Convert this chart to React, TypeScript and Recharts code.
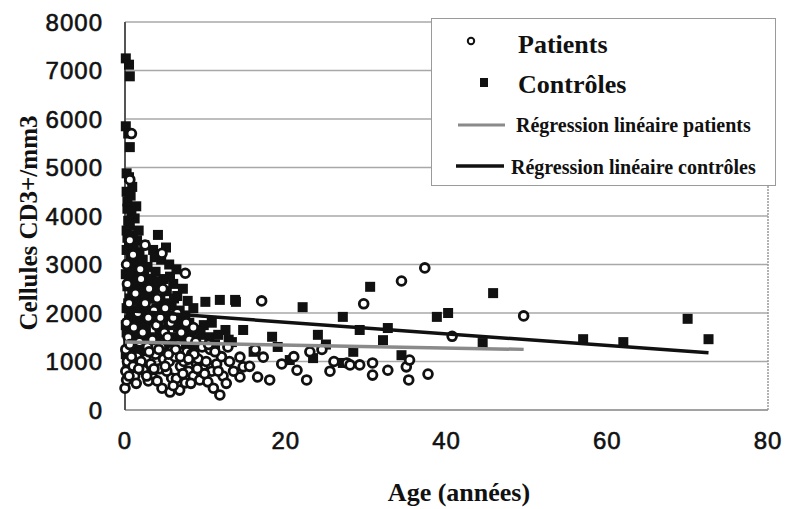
import React from 'react';
import {
  ComposedChart,
  Scatter,
  XAxis,
  YAxis,
  CartesianGrid,
  ReferenceLine,
  Label,
} from 'recharts';

// Contrôles (age in years, CD3+ cells/mm3)
const controlAges = [
  0.1, 0.5, 0.6, 0.1, 0.4, 0.6, 0.2, 0.5, 0.2, 0.7, 0.3, 0.8, 1.2, 0.2, 1.0, 0.5, 1.5, 0.2, 0.9, 1.8,
  0.4, 1.3, 2.2, 0.1, 0.8, 1.6, 2.5, 0.3, 1.1, 2.0, 2.9, 0.6, 1.4, 2.3, 3.2, 0.2, 1.0, 1.9, 2.7, 0.5,
  1.3, 2.1, 3.0, 0.2, 0.9, 1.7, 2.6, 0.4, 1.2, 2.0, 0.1, 0.8, 1.5,
  0.3, 0.9, 0.4, 1.4, 0.6, 1.1, 0.3, 1.7, 0.7, 2.4, 0.5, 1.5, 2.8, 0.9, 2.4, 1.8, 3.3, 0.4, 1.2, 2.6,
  0.7, 1.6, 2.4, 3.4, 0.1, 1.1, 1.9, 3.1, 0.6, 1.6, 2.3, 0.3, 1.0, 1.9, 2.8,
  4.1, 3.5, 4.5, 5.5, 3.8, 4.8, 6.0, 3.6, 4.4, 5.2, 6.5, 7.2, 3.9, 5.0, 5.8, 6.8, 7.5, 8.5, 4.2, 5.4,
  6.3, 7.0, 8.0, 9.0, 4.6, 5.8, 6.9, 7.8, 8.8, 9.8, 10.0, 11.8, 13.7, 10.5, 11.2, 12.5,
  3.7, 5.1, 4.0, 5.6, 6.4, 3.6, 4.9, 6.1, 7.8, 4.3, 5.6, 6.6, 7.4, 8.2, 3.9, 5.0, 6.2, 7.3, 8.4, 9.4,
  4.7, 6.0, 10.8, 11.6, 12.9,
  13.8, 22.1, 27.1, 14.7, 18.3, 13.3, 20.5, 23.4, 27.1, 30.5, 45.8, 70.0, 72.6, 57.0, 62.0, 38.8, 40.2,
  29.2, 32.7, 32.1, 44.5, 34.4, 28.4, 16.0, 19.0, 25.0, 24.0,
];
const controlValues = [
  7250, 7120, 6880, 5850, 5700, 5420, 4880, 4800, 4500, 4420, 4150, 4000, 3950, 3700, 3600, 3450, 3500, 3300, 3200, 3250,
  3000, 3050, 3100, 2800, 2750, 2850, 2700, 2550, 2500, 2550, 2600, 2300, 2350, 2250, 2400, 2100, 2050, 2150, 2050, 1850,
  1800, 1900, 1850, 1600, 1650, 1550, 1650, 1400, 1350, 1300, 1150, 1100, 1200,
  4300, 4600, 3900, 4200, 3800, 3400, 3550, 3700, 3150, 3400, 2900, 2650, 2950, 2450, 2800, 2400, 2700, 2200, 2250, 2350,
  1950, 2000, 1750, 2000, 1750, 1500, 1700, 1500, 1250, 1400, 1450, 950, 900, 1100, 1200,
  3610, 3300, 3100, 3000, 2850, 2700, 2600, 2500, 2300, 2450, 2350, 2500, 2100, 2000, 2150, 2050, 1950, 2100, 1800, 1750,
  1850, 1700, 1800, 1650, 1550, 1500, 1450, 1550, 1400, 1750, 2230, 2270, 2270, 1500, 1350, 1650,
  3150, 3350, 2650, 2750, 2900, 2300, 2200, 2300, 2250, 1650, 1950, 1700, 1850, 1600, 1450, 1350, 1300, 1350, 1250, 1550,
  1150, 1100, 1800, 1550, 1450,
  2230, 2120, 1920, 1650, 1510, 1400, 1030, 1070, 970, 2540, 2410, 1880, 1460, 1460, 1400, 1920, 2000,
  1650, 1690, 1440, 1380, 1130, 1200, 1200, 1300, 1350, 1550,
];

// Patients
const patientAges = [
  0.8, 0.6, 4.6, 7.5, 17.0, 37.3, 34.4, 29.7, 49.6, 40.7, 30.8, 30.8, 32.7, 35.3, 37.7, 35.0, 35.4, 29.2,
  27.6, 14.3, 16.5, 18.0, 22.6, 21.4, 14.7, 14.3, 17.2, 28.0, 26.0, 24.5,
  0.0, 0.2, 0.1, 0.3, 0.1, 0.4, 0.2, 0.5, 0.3, 0.2, 0.6, 1.0, 1.2, 1.5, 1.8, 1.1, 1.6, 1.3, 1.9, 2.3,
  2.6, 2.8, 2.2, 2.9, 2.5, 3.5, 3.2, 3.8, 3.4, 3.9, 3.6, 4.6, 4.3, 4.8, 4.5, 4.9, 4.4, 4.7, 5.6, 5.8,
  5.2, 5.5, 5.9, 5.3, 5.7, 6.8, 6.4, 6.9, 6.2, 6.6, 7.0, 6.5, 7.5, 7.9, 7.3, 7.7, 8.0, 7.6, 8.5, 8.9,
  8.3, 8.8, 9.3, 9.7, 9.1, 9.6, 10.3, 10.8, 10.1, 10.6, 11.0, 11.8, 11.4, 12.2, 12.0, 12.8, 13.5, 13.0,
  15.5, 16.2, 19.5, 21.0, 23.0, 25.5,
  0.5, 1.4, 2.0, 2.9, 3.0, 4.0, 5.0, 6.0, 6.3, 7.2, 8.2, 8.6, 9.9, 10.4, 11.6, 12.6, 2.7, 3.6, 4.2, 5.4,
  6.9, 7.9, 9.0, 11.2, 1.7, 0.8, 0.6,
  1.0, 2.0, 3.0, 4.0, 5.0, 6.0, 8.5, 2.5,
];
const patientValues = [
  5700, 4750, 3230, 2820, 2250, 2930, 2660, 2190, 1940, 1520, 970, 720, 820, 620, 740, 890, 1030, 930,
  970, 680, 680, 620, 620, 820, 890, 1090, 1090, 930, 1000, 1250,
  450, 620, 800, 1000, 1250, 1500, 1800, 2200, 2600, 3000, 3500, 900, 700, 1100, 1400, 1700, 2000, 2400, 2900, 820,
  1050, 1300, 1600, 1900, 2200, 660, 950, 1150, 1450, 1750, 2050, 450, 850, 1050, 1300, 1600, 1900, 2500, 370, 660,
  800, 1000, 1250, 1500, 1800, 410, 650, 900, 1100, 1350, 1600, 2000, 560, 800, 1000, 1200, 1450, 1800, 700, 950,
  1150, 1400, 620, 850, 1050, 1300, 580, 800, 1000, 1250, 450, 310, 950, 700, 1100, 1300, 800, 1000,
  900, 1250, 950, 1100, 1200, 800,
  700, 550, 1000, 600, 1200, 600, 900, 500, 1250, 750, 550, 1150, 750, 1350, 800, 550, 700, 850, 1250, 1150,
  1100, 1050, 850, 1200, 850, 1100, 1350,
  3200, 2700, 2500, 2300, 2100, 1900, 1700, 3400,
];

// Régression linéaire (end points of the fitted lines)
const patientFitAges = [0, 49.6];
const patientFitValues = [1400, 1250];
const controlFitAges = [0, 72.6];
const controlFitValues = [2050, 1180];

const yTicks = [0, 1000, 2000, 3000, 4000, 5000, 6000, 7000, 8000];
const xTicks = [0, 20, 40, 60, 80];

const toPoints = (xs: number[], ys: number[]) => xs.map((age, i) => ({ age, value: ys[i] }));

const controls = toPoints(controlAges, controlValues);
const patients = toPoints(patientAges, patientValues);
const patientFit = toPoints(patientFitAges, patientFitValues);
const controlFit = toPoints(controlFitAges, controlFitValues);

const SANS = '"Liberation Sans", Arial, sans-serif';
const SERIF = '"Liberation Serif", "Times New Roman", serif';

const SquareDot = (props: any) => {
  const { cx, cy } = props;
  if (cx == null || cy == null) return <g />;
  return <rect x={cx - 5} y={cy - 5} width={10} height={10} fill="#111" />;
};

const CircleDot = (props: any) => {
  const { cx, cy } = props;
  if (cx == null || cy == null) return <g />;
  return <circle cx={cx} cy={cy} r={4.4} fill="#fff" stroke="#111" strokeWidth={2.8} />;
};

const NoDot = () => <g />;

const tickStyle = {
  fontSize: 24,
  fill: '#111',
  fontFamily: SANS,
  stroke: '#111',
  strokeWidth: 0.6,
  letterSpacing: 1,
};

const LegendBox = () => (
  <div
    style={{
      position: 'absolute',
      left: 431,
      top: 18,
      width: 345,
      height: 168,
      background: '#fff',
      border: '1px solid #9a9a9a',
      boxSizing: 'border-box',
    }}
  >
    <svg width={345} height={168} style={{ position: 'absolute', left: 0, top: 0 }}>
      <circle cx={39} cy={22} r={3.2} fill="#fff" stroke="#111" strokeWidth={2} />
      <rect x={48} y={59} width={8} height={9} fill="#111" />
      <line x1={26} y1={106} x2={73} y2={106} stroke="#8a8a8a" strokeWidth={3} />
      <line x1={24} y1={147} x2={72} y2={147} stroke="#111" strokeWidth={3.5} />
      <text x={86} y={34} fontSize={26} fontFamily={SERIF} fontWeight="bold" fill="#111">Patients</text>
      <text x={86} y={74} fontSize={26} fontFamily={SERIF} fontWeight="bold" fill="#111">Contrôles</text>
      <text x={84} y={113} fontSize={20} fontFamily={SERIF} fontWeight="bold" fill="#111">Régression linéaire patients</text>
      <text x={79} y={155} fontSize={20} fontFamily={SERIF} fontWeight="bold" fill="#111">Régression linéaire contrôles</text>
    </svg>
  </div>
);

export default function App() {
  return (
    <div style={{ position: 'absolute', left: 0, top: 0, width: 787, height: 509, background: '#fff' }}>
      <ComposedChart width={787} height={509} margin={{ top: 22, right: 19, bottom: 39, left: 0 }}>
        <CartesianGrid vertical={false} stroke="#a8a8a8" strokeWidth={1.5} />
        <XAxis
          type="number"
          dataKey="age"
          domain={[0, 80]}
          ticks={xTicks}
          height={60}
          axisLine={{ stroke: '#999', strokeWidth: 1.5 }}
          tickLine={false}
          tickSize={0}
          tickMargin={22}
          tick={tickStyle}
        >
          <Label
            content={() => (
              <text x={459} y={501} textAnchor="middle" fontSize={26} fontFamily={SERIF} fontWeight="bold" fill="#111">
                Age (années)
              </text>
            )}
          />
        </XAxis>
        <YAxis
          type="number"
          dataKey="value"
          domain={[0, 8000]}
          ticks={yTicks}
          width={125}
          axisLine={{ stroke: '#555', strokeWidth: 2 }}
          tickLine={false}
          tickSize={0}
          tickMargin={22}
          tick={tickStyle}
        >
          <Label
            content={() => (
              <text
                x={37}
                y={223}
                transform="rotate(-90 37 223)"
                textAnchor="middle"
                fontSize={25}
                fontFamily={SERIF}
                fontWeight="bold"
                fill="#111"
              >
                Cellules CD3+/mm3
              </text>
            )}
          />
        </YAxis>
        <ReferenceLine x={80} stroke="#999" strokeWidth={1.5} strokeDasharray="2 1" />
        <Scatter name="Contrôles" data={controls} shape={SquareDot} isAnimationActive={false} />
        <Scatter name="Patients" data={patients} shape={CircleDot} isAnimationActive={false} />
        <Scatter
          name="Régression linéaire patients"
          data={patientFit}
          shape={NoDot}
          line={{ stroke: '#8a8a8a', strokeWidth: 3.5 }}
          isAnimationActive={false}
        />
        <Scatter
          name="Régression linéaire contrôles"
          data={controlFit}
          shape={NoDot}
          line={{ stroke: '#111', strokeWidth: 3.5 }}
          isAnimationActive={false}
        />
      </ComposedChart>
      <LegendBox />
    </div>
  );
}
